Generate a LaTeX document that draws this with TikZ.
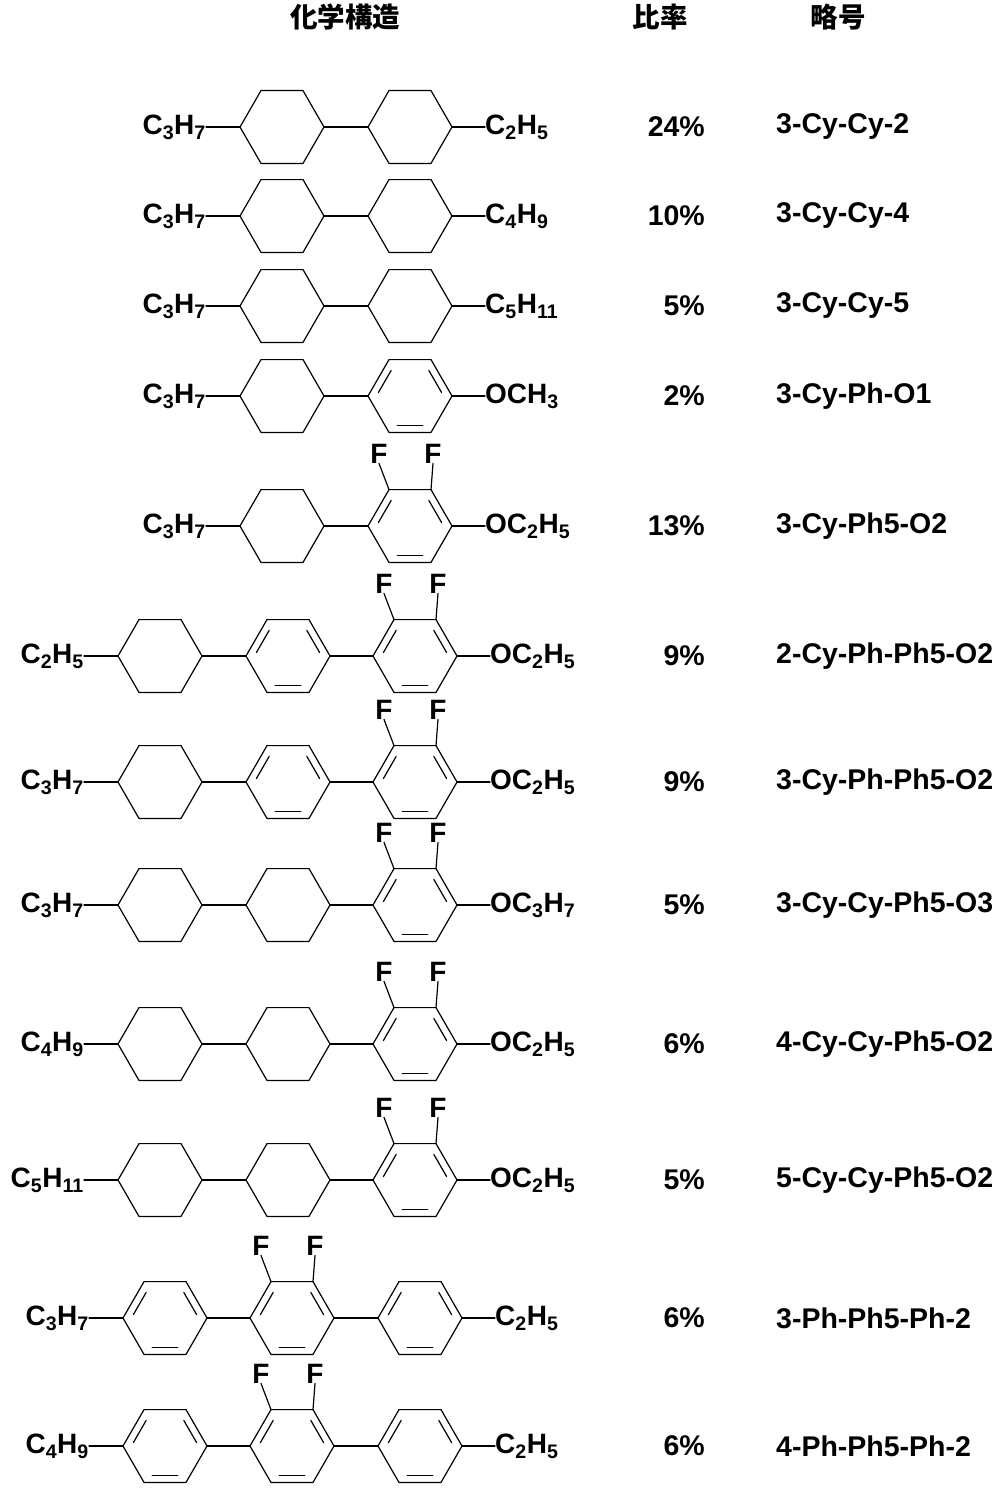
\documentclass[tikz,border=0pt]{standalone}
\usepackage{fontspec}
\setmainfont{Liberation Sans}
\newfontfamily\cjk{Noto Sans CJK JP}
\usetikzlibrary{calc}
% ring helpers
\newcommand{\hexring}[3]{%
  \coordinate (#1) at (#2,#3);
  \coordinate (#1-l) at ($(#1)+(-42,0)$);
  \coordinate (#1-tl) at ($(#1)+(-21,-36.4)$);
  \coordinate (#1-tr) at ($(#1)+(21,-36.4)$);
  \coordinate (#1-r) at ($(#1)+(42,0)$);
  \coordinate (#1-br) at ($(#1)+(21,36.4)$);
  \coordinate (#1-bl) at ($(#1)+(-21,36.4)$);
  \draw[bond] (#1-l) -- (#1-tl) -- (#1-tr) -- (#1-r) -- (#1-br) -- (#1-bl) -- cycle;}
\newcommand{\aromring}[3]{%
  \hexring{#1}{#2}{#3}
  \draw[bond, shorten <=4pt, shorten >=4pt] ($(#1)!0.8!(#1-l)$) -- ($(#1)!0.8!(#1-tl)$);
  \draw[bond, shorten <=4pt, shorten >=4pt] ($(#1)!0.8!(#1-tr)$) -- ($(#1)!0.8!(#1-r)$);
  \draw[bond, shorten <=4pt, shorten >=4pt] ($(#1)!0.8!(#1-br)$) -- ($(#1)!0.8!(#1-bl)$);}
\newcommand{\difluoro}[3]{%
  \aromring{#1}{#2}{#3}
  \node[atom] (#1-fa) at ($(#1-tl)+(-10,-36)$) {F};
  \node[atom] (#1-fb) at ($(#1-tr)+(2,-36)$) {F};
  \draw[bond] (#1-tl) -- (#1-fa.south);
  \draw[bond] (#1-tr) -- (#1-fb.south);}
\newcommand{\lefttail}[3]{% node, ring, text
  \node[atom, anchor=east] (#1) at ($(#2-l)+(-34,0)$) {#3};
  \draw[bond] (#1.east) -- (#2-l);}
\newcommand{\righttail}[3]{%
  \node[atom, anchor=west] (#1) at ($(#2-r)+(33,0)$) {#3};
  \draw[bond] (#2-r) -- (#1.west);}
\newcommand{\rowinfo}[4]{% name, y, ratio, code
  \node[info, anchor=east] (#1-p) at (705,#2) {#3};
  \node[info, anchor=west] (#1-c) at (776,#2) {#4};}
\newcommand{\sbs}[1]{\textsubscript{#1}}

\begin{document}
\begin{tikzpicture}[x=1pt, y=-1pt,
    bond/.style={line width=1.2pt, line cap=round, line join=round},
    atom/.style={font=\bfseries\fontsize{28}{28}\selectfont, inner sep=0pt},
    info/.style={font=\bfseries\fontsize{28.5}{28}\selectfont, inner sep=0pt},
    head/.style={font=\cjk\bfseries\fontsize{27.5}{28}\selectfont, inner sep=0pt}
]
\useasboundingbox (0,0) rectangle (997,1493);

% headers
\node[head] (h1) at (345,17) {化学構造};
\node[head] (h2) at (660,17) {比率};
\node[head] (h3) at (838,17) {略号};

% row 1
\hexring{a1}{282}{127} \hexring{a2}{410}{127}
\draw[bond] (a1-r) -- (a2-l);
\lefttail{a0}{a1}{C\sbs{3}H\sbs{7}} \righttail{a3}{a2}{C\sbs{2}H\sbs{5}}
\rowinfo{a}{127}{24\%}{3-Cy-Cy-2}

% row 2
\hexring{b1}{282}{216} \hexring{b2}{410}{216}
\draw[bond] (b1-r) -- (b2-l);
\lefttail{b0}{b1}{C\sbs{3}H\sbs{7}} \righttail{b3}{b2}{C\sbs{4}H\sbs{9}}
\rowinfo{b}{216}{10\%}{3-Cy-Cy-4}

% row 3
\hexring{c1}{282}{306} \hexring{c2}{410}{306}
\draw[bond] (c1-r) -- (c2-l);
\lefttail{c0}{c1}{C\sbs{3}H\sbs{7}} \righttail{c3}{c2}{C\sbs{5}H\sbs{11}}
\rowinfo{c}{306}{5\%}{3-Cy-Cy-5}

% row 4
\hexring{d1}{282}{396} \aromring{d2}{410}{396}
\draw[bond] (d1-r) -- (d2-l);
\lefttail{d0}{d1}{C\sbs{3}H\sbs{7}} \righttail{d3}{d2}{OCH\sbs{3}}
\rowinfo{d}{396}{2\%}{3-Cy-Ph-O1}

% row 5
\hexring{e1}{282}{526} \difluoro{e2}{410}{526}
\draw[bond] (e1-r) -- (e2-l);
\lefttail{e0}{e1}{C\sbs{3}H\sbs{7}} \righttail{e3}{e2}{OC\sbs{2}H\sbs{5}}
\rowinfo{e}{526}{13\%}{3-Cy-Ph5-O2}

% row 6
\hexring{f1}{160}{656} \aromring{f2}{288}{656} \difluoro{f3}{415}{656}
\draw[bond] (f1-r) -- (f2-l); \draw[bond] (f2-r) -- (f3-l);
\lefttail{f0}{f1}{C\sbs{2}H\sbs{5}} \righttail{f4}{f3}{OC\sbs{2}H\sbs{5}}
\rowinfo{f}{656}{9\%}{2-Cy-Ph-Ph5-O2}

% row 7
\hexring{g1}{160}{782} \aromring{g2}{288}{782} \difluoro{g3}{415}{782}
\draw[bond] (g1-r) -- (g2-l); \draw[bond] (g2-r) -- (g3-l);
\lefttail{g0}{g1}{C\sbs{3}H\sbs{7}} \righttail{g4}{g3}{OC\sbs{2}H\sbs{5}}
\rowinfo{g}{782}{9\%}{3-Cy-Ph-Ph5-O2}

% row 8
\hexring{k1}{160}{905} \hexring{k2}{288}{905} \difluoro{k3}{415}{905}
\draw[bond] (k1-r) -- (k2-l); \draw[bond] (k2-r) -- (k3-l);
\lefttail{k0}{k1}{C\sbs{3}H\sbs{7}} \righttail{k4}{k3}{OC\sbs{3}H\sbs{7}}
\rowinfo{k}{905}{5\%}{3-Cy-Cy-Ph5-O3}

% row 9
\hexring{m1}{160}{1044} \hexring{m2}{288}{1044} \difluoro{m3}{415}{1044}
\draw[bond] (m1-r) -- (m2-l); \draw[bond] (m2-r) -- (m3-l);
\lefttail{m0}{m1}{C\sbs{4}H\sbs{9}} \righttail{m4}{m3}{OC\sbs{2}H\sbs{5}}
\rowinfo{m}{1044}{6\%}{4-Cy-Cy-Ph5-O2}

% row 10
\hexring{n1}{160}{1180} \hexring{n2}{288}{1180} \difluoro{n3}{415}{1180}
\draw[bond] (n1-r) -- (n2-l); \draw[bond] (n2-r) -- (n3-l);
\lefttail{n0}{n1}{C\sbs{5}H\sbs{11}} \righttail{n4}{n3}{OC\sbs{2}H\sbs{5}}
\rowinfo{n}{1180}{5\%}{5-Cy-Cy-Ph5-O2}

% row 11
\aromring{p1}{165}{1318} \difluoro{p2}{292}{1318} \aromring{p3}{420}{1318}
\draw[bond] (p1-r) -- (p2-l); \draw[bond] (p2-r) -- (p3-l);
\lefttail{p0}{p1}{C\sbs{3}H\sbs{7}} \righttail{p4}{p3}{C\sbs{2}H\sbs{5}}
\rowinfo{p}{1318}{6\%}{3-Ph-Ph5-Ph-2}

% row 12
\aromring{q1}{165}{1446} \difluoro{q2}{292}{1446} \aromring{q3}{420}{1446}
\draw[bond] (q1-r) -- (q2-l); \draw[bond] (q2-r) -- (q3-l);
\lefttail{q0}{q1}{C\sbs{4}H\sbs{9}} \righttail{q4}{q3}{C\sbs{2}H\sbs{5}}
\rowinfo{q}{1446}{6\%}{4-Ph-Ph5-Ph-2}

\end{tikzpicture}
\end{document}
